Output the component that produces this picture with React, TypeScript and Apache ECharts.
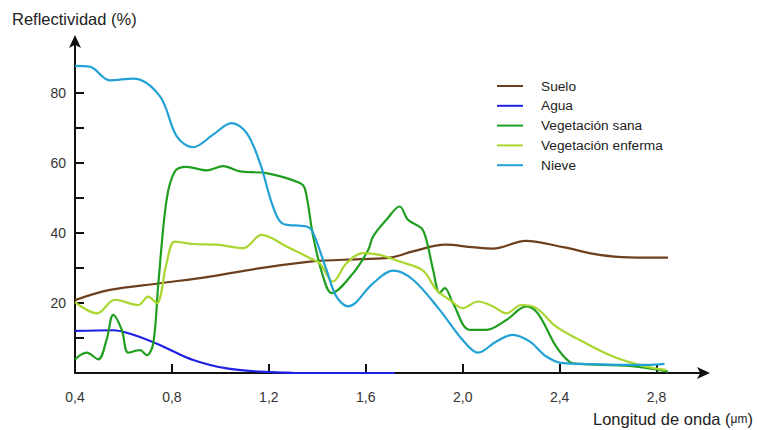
import React, { useEffect, useRef } from "react";
import * as echarts from "echarts";

const seriesNames = ["Suelo", "Agua", "Vegetación sana", "Vegetación enferma", "Nieve"];
const seriesColors = ["#6e3f1c", "#2020e2", "#1f9e1f", "#a9d630", "#22a2d4"];

const xTicks = [0.8, 1.2, 1.6, 2.0, 2.4, 2.8];
const xLabels = [0.4, 0.8, 1.2, 1.6, 2.0, 2.4, 2.8];
const yTicks = [10, 20, 30, 40, 50, 60, 70, 80];
const yLabels = [20, 40, 60, 80];

const suelo = [
  [0.4, 20.8], [0.544, 23.7], [0.75, 25.6], [0.957, 27.5], [1.163, 29.9], [1.37, 31.8],
  [1.575, 32.5], [1.7, 32.9], [1.795, 34.7], [1.93, 36.6], [2.04, 35.9], [2.125, 35.5],
  [2.26, 37.7], [2.414, 35.9], [2.565, 33.7], [2.689, 33.0], [2.847, 32.9],
];
const agua = [
  [0.4, 12.0], [0.558, 12.2], [0.64, 10.9], [0.75, 8.0], [0.888, 3.7], [1.026, 1.3],
  [1.163, 0.4], [1.3, 0.05], [1.5, 0], [1.72, 0],
];
const vegSana = [
  [0.4, 3.9], [0.448, 5.8], [0.496, 3.9], [0.53, 9.4], [0.558, 16.6], [0.593, 12.3],
  [0.62, 5.8], [0.668, 6.5], [0.696, 5.1], [0.723, 8.5], [0.744, 25.6], [0.778, 49.4],
  [0.812, 57.5], [0.86, 58.8], [0.943, 57.8], [1.012, 59.0], [1.08, 57.5], [1.19, 57.0],
  [1.328, 54.2], [1.35, 52.3], [1.383, 38.9], [1.424, 27.5], [1.459, 22.8], [1.548, 28.5],
  [1.61, 35.1], [1.63, 38.9], [1.685, 43.7], [1.74, 47.5], [1.774, 43.7], [1.83, 41.3],
  [1.85, 38.0], [1.878, 29.4], [1.905, 22.8], [1.926, 24.2], [1.96, 19.9], [2.029, 12.3],
  [2.098, 12.3], [2.18, 15.1], [2.262, 19.0], [2.31, 17.0], [2.386, 7.5], [2.441, 3.2],
  [2.483, 2.6], [2.689, 2.0], [2.847, 0.4],
];
const vegEnferma = [
  [0.4, 20.2], [0.49, 17.0], [0.565, 20.9], [0.661, 19.4], [0.702, 21.8], [0.737, 19.9],
  [0.778, 31.3], [0.812, 37.5], [0.888, 36.8], [0.984, 36.6], [1.094, 35.6], [1.17, 39.4],
  [1.273, 36.1], [1.369, 32.8], [1.41, 31.3], [1.465, 26.1], [1.52, 31.3], [1.589, 34.2],
  [1.658, 33.7], [1.74, 31.8], [1.836, 29.2], [1.892, 23.7], [1.946, 20.9], [2.0, 18.5],
  [2.063, 20.4], [2.125, 19.0], [2.18, 17.0], [2.242, 19.4], [2.304, 18.5], [2.386, 13.2],
  [2.483, 9.4], [2.62, 4.7], [2.757, 1.8], [2.84, 0.9],
];
const nieve = [
  [0.4, 87.6], [0.46, 87.4], [0.544, 83.5], [0.64, 84.0], [0.75, 79.0], [0.82, 67.5],
  [0.887, 64.4], [0.97, 68.0], [1.046, 71.3], [1.108, 68.5], [1.163, 60.0], [1.217, 47.5],
  [1.258, 42.6], [1.355, 41.8], [1.38, 40.4], [1.438, 29.4], [1.479, 21.8], [1.527, 19.0],
  [1.63, 25.6], [1.713, 29.2], [1.795, 26.6], [1.905, 18.0], [2.0, 9.4], [2.063, 5.8],
  [2.139, 9.0], [2.207, 10.9], [2.276, 9.0], [2.345, 4.7], [2.414, 2.8], [2.757, 2.3],
  [2.833, 2.6],
];

const seriesData = [suelo, agua, vegSana, vegEnferma, nieve];

const FONT = "'Liberation Sans', Arial, sans-serif";

export default function App() {
  const ref = useRef<HTMLDivElement>(null);

  useEffect(() => {
    if (!ref.current) return;
    const chart = echarts.init(ref.current, null, { renderer: "svg" });
    const fmt = (v: number) => v.toFixed(1).replace(".", ",");
    chart.setOption({
      animation: false,
      backgroundColor: "#ffffff",
      textStyle: { fontFamily: FONT },
      grid: { left: 75, right: 52, top: 40, bottom: 57 },
      legend: {
        orient: "vertical",
        left: 497,
        top: 79,
        padding: 0,
        itemWidth: 26,
        itemHeight: 14,
        itemGap: 5.8,
        icon: "path://M0,0 L26,0 L26,2 L0,2 Z",
        data: seriesNames,
        textStyle: { fontSize: 13.7, color: "#222", fontFamily: FONT, padding: [0, 0, 0, 13] },
      },
      graphic: [
        {
          type: "text",
          left: 12,
          top: 10,
          style: { text: "Reflectividad (%)", fontSize: 16.5, fill: "#222", fontFamily: FONT },
        },
        {
          type: "text",
          right: 4,
          top: 410,
          style: {
            text: "{a|Longitud de onda (}{b|μm}{a|)}",
            rich: {
              a: { fontSize: 16.5, fill: "#222", fontFamily: FONT },
              b: { fontSize: 12, fill: "#222", fontFamily: FONT },
            },
          },
        },
      ],
      xAxis: {
        type: "value",
        min: 0.4,
        max: 3.0,
        interval: 0.4,
        splitLine: { show: false },
        axisLine: {
          lineStyle: { color: "#111", width: 2 },
          symbol: ["none", "arrow"],
          symbolSize: [9, 13],
          symbolOffset: [0, 5],
        },
        axisTick: {
          inside: true,
          length: 9,
          lineStyle: { color: "#111", width: 2 },
          customValues: xTicks,
        },
        axisLabel: {
          color: "#333",
          fontSize: 14,
          margin: 17,
          fontFamily: FONT,
          customValues: xLabels,
          formatter: (v: number) => fmt(v),
        },
      },
      yAxis: {
        type: "value",
        min: 0,
        max: 95,
        interval: 10,
        splitLine: { show: false },
        axisLine: {
          lineStyle: { color: "#111", width: 2 },
          symbol: ["none", "arrow"],
          symbolSize: [9, 13],
          symbolOffset: [0, 5],
        },
        axisTick: {
          inside: true,
          length: 9,
          lineStyle: { color: "#111", width: 2 },
          customValues: yTicks,
        },
        axisLabel: {
          color: "#333",
          fontSize: 14,
          margin: 9,
          fontFamily: FONT,
          customValues: yLabels,
        },
      },
      series: seriesNames.map((name, i) => ({
        name,
        type: "line",
        data: seriesData[i],
        smooth: 0.35,
        symbol: "none",
        color: seriesColors[i],
        lineStyle: { width: 2.2, color: seriesColors[i] },
        z: i === 1 ? 1 : 2,
      })),
    });
    return () => chart.dispose();
  }, []);

  return (
    <div
      ref={ref}
      style={{ position: "fixed", left: 0, top: 0, width: 757, height: 430 }}
    />
  );
}
